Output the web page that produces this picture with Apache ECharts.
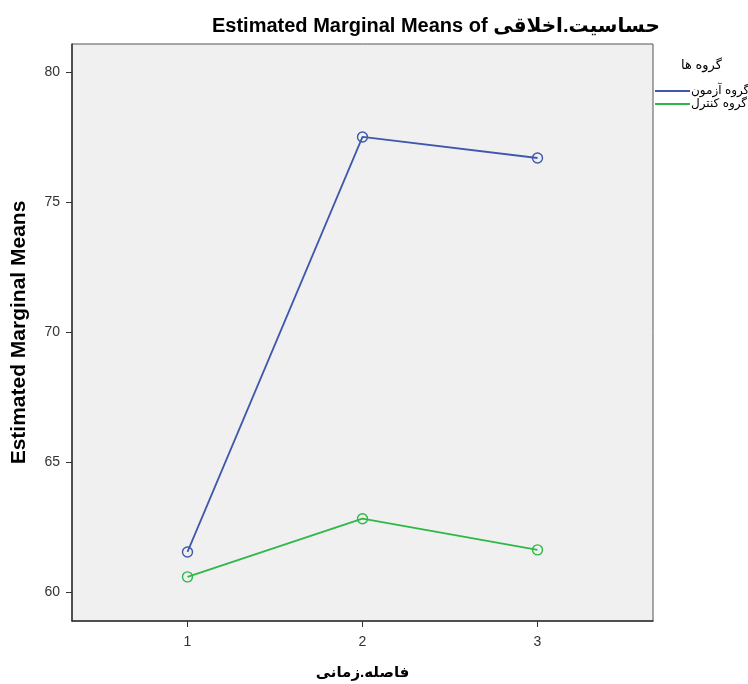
<!DOCTYPE html>
<html>
<head>
<meta charset="utf-8">
<script src="https://cdn.jsdelivr.net/npm/echarts@6/dist/echarts.min.js"></script>
<style>
html,body{margin:0;padding:0;background:#fff;}
#chart{width:748px;height:684px;}
</style>
</head>
<body>
<div id="chart"></div>
<script>
const categories = [1, 2, 3];
const xTickLabels = ['1', '2', '3'];
const yTickValues = [60, 65, 70, 75, 80];
const seriesNames = ['گروه آزمون', 'گروه کنترل'];
const seriesColors = ['#3e58ac', '#2eb848'];
const experimentalValues = [61.54, 77.52, 76.71];
const controlValues = [60.58, 62.82, 61.62];
const titleText = 'Estimated Marginal Means of حساسیت.اخلاقی';
const yAxisTitle = 'Estimated Marginal Means';
const xAxisTitle = 'فاصله.زمانی';
const legendTitle = 'گروه ها';

const font = '"Liberation Sans", Arial, "DejaVu Sans", sans-serif';
const chart = echarts.init(document.getElementById('chart'), null, {renderer: 'canvas'});

function makeSeries(name, values, color) {
  return {
    name: name,
    type: 'line',
    data: categories.map((c, i) => [c, values[i]]),
    symbol: 'circle',
    symbolSize: 10,
    color: color,
    lineStyle: {width: 1.8, color: color},
    itemStyle: {color: 'rgba(0,0,0,0)', borderColor: color, borderWidth: 1.4}
  };
}

chart.setOption({
  backgroundColor: '#ffffff',
  animation: false,
  textStyle: {fontFamily: font},
  title: {
    text: titleText,
    left: 207,
    top: 11,
    textStyle: {fontFamily: font, fontSize: 20, fontWeight: 'bold', color: '#000'}
  },
  graphic: [{
    type: 'text',
    left: 681,
    top: 59,
    style: {text: legendTitle, font: '13px ' + font, fill: '#000'}
  }],
  legend: {
    orient: 'vertical',
    left: 650,
    top: 80,
    itemGap: 1,
    itemWidth: 35,
    itemHeight: 2,
    icon: 'rect',
    data: seriesNames.map((n, i) => ({name: n, itemStyle: {color: seriesColors[i], borderWidth: 0}})),
    textStyle: {fontFamily: font, fontSize: 12, color: '#000', padding: [0, 0, 0, -4]}
  },
  grid: {
    left: 72, top: 44, right: 95, bottom: 63,
    outerBoundsMode: 'none',
    containLabel: false,
    show: true,
    backgroundColor: '#f0f0f0',
    borderColor: '#555',
    borderWidth: 1
  },
  xAxis: {
    type: 'value',
    min: 0.34,
    max: 3.66,
    name: xAxisTitle,
    nameLocation: 'middle',
    nameGap: 44,
    nameTextStyle: {fontFamily: font, fontSize: 15, fontWeight: 'bold', color: '#000'},
    axisLine: {show: true, lineStyle: {color: '#333', width: 1.5}},
    axisTick: {show: true, length: 6, customValues: categories, lineStyle: {color: '#333'}},
    axisLabel: {
      customValues: categories,
      formatter: v => xTickLabels[categories.indexOf(v)],
      fontFamily: font, fontSize: 14, color: '#333', margin: 14
    },
    splitLine: {show: false}
  },
  yAxis: {
    type: 'value',
    min: 58.88,
    max: 81.1,
    name: yAxisTitle,
    nameLocation: 'middle',
    nameGap: 42,
    nameTextStyle: {fontFamily: font, fontSize: 21, fontWeight: 'bold', color: '#000'},
    axisLine: {show: true, lineStyle: {color: '#333', width: 1.5}},
    axisTick: {show: true, length: 6, customValues: yTickValues, lineStyle: {color: '#333'}},
    axisLabel: {
      customValues: yTickValues,
      fontFamily: font, fontSize: 14, color: '#333', margin: 12
    },
    splitLine: {show: false}
  },
  series: [
    makeSeries(seriesNames[0], experimentalValues, seriesColors[0]),
    makeSeries(seriesNames[1], controlValues, seriesColors[1])
  ]
});
</script>
</body>
</html>
